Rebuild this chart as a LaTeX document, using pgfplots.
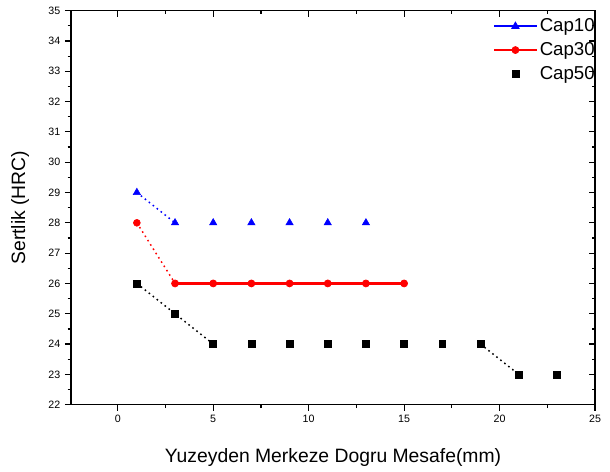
\documentclass[border=0pt]{standalone}
\usepackage{pgfplots}
\pgfplotsset{compat=1.18}
\usepackage{fontspec}
\setmainfont{Liberation Sans}

\pgfplotsset{frame/.style={scale only axis,width=393pt,height=295.5pt,
  xmin=-2.45,xmax=25,ymin=22,ymax=35,
  xtick={0,5,...,25},ytick={22,...,35},
  minor x tick num=1,minor y tick num=1,
  major tick length=4.5pt,minor tick length=2.5pt,
  axis line style={line width=1.1pt},every tick/.style={line width=0.9pt,black}}}

\begin{document}
\begin{tikzpicture}
\begin{axis}[frame,
  tick pos=left,tick align=outside,
  tick label style={font=\fontsize{8}{9}\selectfont},
  /pgf/number format/assume math mode=true,
  xlabel={Yuzeyden Merkeze Dogru Mesafe(mm)},
  ylabel={Sertlik (HRC)},
  label style={font=\fontsize{14.5}{16}\selectfont},
  xlabel style={at={(axis description cs:0.5,-0.135)},anchor=center},
  ylabel style={at={(axis description cs:-0.097,0.5)},anchor=center},
  legend image code/.code={\draw[mark repeat=2,mark phase=2,#1] plot coordinates {(0pt,0pt)(16pt,0pt)(32pt,0pt)};},
  legend style={draw=none,fill=none,at={(axis description cs:0.805,0.985)},anchor=north west,
    font=\fontsize{14}{16}\selectfont,row sep=3.5pt,inner sep=0pt,
    nodes={inner sep=1.5pt}},
  legend cell align=left,
  clip=false]
\addlegendimage{blue,line width=1.5pt,mark=triangle*,mark size=3.2pt,mark options={line width=0.6pt}}
\addlegendentry{Cap10}
\addlegendimage{red,line width=1.5pt,mark=*,mark size=2.6pt,mark options={line width=0.6pt}}
\addlegendentry{Cap30}
\addlegendimage{black,only marks,mark=square*,mark size=2.6pt}
\addlegendentry{Cap50}
% Cap10
\addplot[blue,line width=1.1pt,dash pattern=on 1.2pt off 2.6pt] coordinates {(1,29)(3,28)};
\addplot[blue,only marks,mark=triangle*,mark size=3.2pt] coordinates {(1,29)(3,28)(5,28)(7,28)(9,28)(11,28)(13,28)};
% Cap30
\addplot[red,line width=1.1pt,dash pattern=on 1.2pt off 2.6pt] coordinates {(1,28)(3,26)};
\addplot[red,line width=1.8pt,mark=*,mark size=2.6pt,mark options={line width=0.6pt}] coordinates {(3,26)(5,26)(7,26)(9,26)(11,26)(13,26)(15,26)};
\addplot[red,only marks,mark=*,mark size=2.6pt] coordinates {(1,28)};
% Cap50
\addplot[black,line width=1.1pt,dash pattern=on 1.2pt off 2.6pt] coordinates {(1,26)(3,25)(5,24)};
\addplot[black,line width=1.1pt,dash pattern=on 1.2pt off 2.6pt] coordinates {(19,24)(21,23)};
\addplot[black,only marks,mark=square*,mark size=2.6pt] coordinates {(1,26)(3,25)(5,24)(7,24)(9,24)(11,24)(13,24)(15,24)(17,24)(19,24)(21,23)(23,23)};
\end{axis}
\begin{axis}[frame,
  xtick pos=right,ytick pos=right,tick align=inside,
  xticklabels={},yticklabels={}]
\end{axis}
\pgfresetboundingbox
\path[use as bounding box] (-53.25pt,-50.25pt) rectangle (404.25pt,303.5pt);
\end{tikzpicture}
\end{document}
